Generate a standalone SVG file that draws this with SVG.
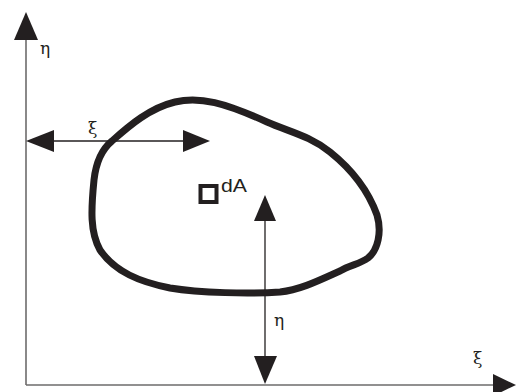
<svg xmlns="http://www.w3.org/2000/svg" width="522" height="392" viewBox="0 0 522 392">
<style>
.ax{stroke:#6d6b6b;stroke-width:1.6;fill:none}
.ln{stroke:#231f20;stroke-width:1.3;fill:none}
.hd{fill:#231f20}
.lb{font-family:"DejaVu Serif",serif;font-size:17px;fill:#231f20}
.tx{font-family:"Liberation Sans",Arial,sans-serif;font-size:19px;fill:#231f20}
</style>
<rect width="522" height="392" fill="#fff"/>
<g id="connectors">
<line class="ax" x1="26" y1="38" x2="26" y2="385"/>
<line class="ax" x1="26" y1="385" x2="495" y2="385"/>
<polygon class="hd" points="26,12 14,40 38,40"/>
<polygon class="hd" points="516,385 493,374 493,396"/>
<line class="ln" x1="50" y1="141" x2="186" y2="141"/>
<polygon class="hd" points="26,141 54,130 54,152"/>
<polygon class="hd" points="210,141 183,130 183,152"/>
<line class="ln" x1="265" y1="218" x2="265" y2="360"/>
<polygon class="hd" points="265,195 254,221 276,221"/>
<polygon class="hd" points="265,384 254,356 277,356"/>
</g>
<g id="section">
<path d="M112,141 C130,125 150,108 175,102 C200,96 225,103 267,122 C290,132 310,136 330,152 C350,168 368,190 377,215 C382,232 378,250 368,258 C360,264 350,265 340,271 C320,280 300,290 280,292 C250,294 200,293 170,288 C140,282 115,272 100,250 C90,232 91,210 94,180 C96,162 101,150 112,141 Z" fill="none" stroke="#231f20" stroke-width="7" stroke-linejoin="round"/>
</g>
<g id="dA">
<rect x="200.5" y="186" width="16" height="16" fill="#fff" stroke="#231f20" stroke-width="4"/>
<text class="tx" x="221" y="192" textLength="26" lengthAdjust="spacingAndGlyphs">dA</text>
</g>
<g id="labels">
<text class="lb" x="40" y="54">η</text>
<text class="lb" x="88" y="134">ξ</text>
<text class="lb" x="274" y="326">η</text>
<text class="lb" x="473" y="364">ξ</text>
</g>
</svg>
